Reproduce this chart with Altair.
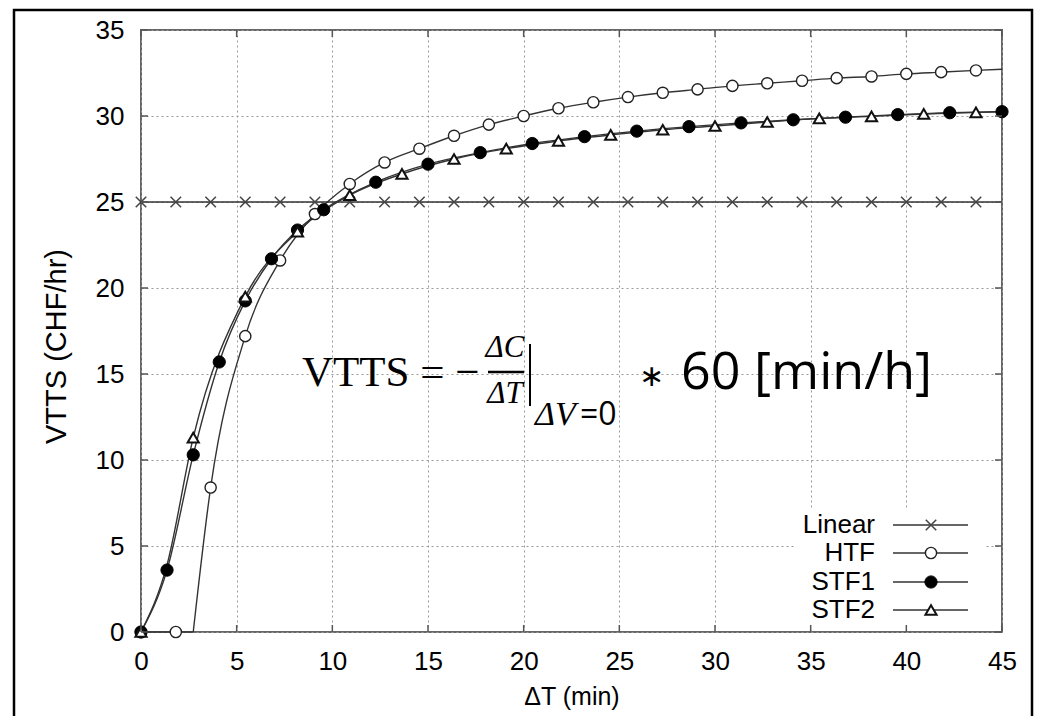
import altair as alt
import pandas as pd

# ---------------- data ----------------
# marker positions (x in minutes, y in CHF/hr)
LINEAR_X = [0.0, 1.82, 3.64, 5.45, 7.27, 9.09, 10.91, 12.73, 14.55, 16.36, 18.18, 20.0,
            21.82, 23.64, 25.45, 27.27, 29.09, 30.91, 32.73, 34.55, 36.36, 38.18, 40.0, 41.82, 43.64]
LINEAR_Y = [25.0, 25.0, 25.0, 25.0, 25.0, 25.0, 25.0, 25.0, 25.0, 25.0, 25.0, 25.0,
            25.0, 25.0, 25.0, 25.0, 25.0, 25.0, 25.0, 25.0, 25.0, 25.0, 25.0, 25.0, 25.0]

HTF_X = [0.0, 1.82, 3.64, 5.45, 7.27, 9.09, 10.91, 12.73, 14.55, 16.36, 18.18, 20.0,
         21.82, 23.64, 25.45, 27.27, 29.09, 30.91, 32.73, 34.55, 36.36, 38.18, 40.0, 41.82, 43.64]
HTF_Y = [0.0, 0.0, 8.4, 17.2, 21.6, 24.3, 26.05, 27.3, 28.1, 28.85, 29.5, 30.0,
         30.45, 30.8, 31.1, 31.35, 31.55, 31.75, 31.9, 32.05, 32.2, 32.3, 32.45, 32.55, 32.65]

STF1_X = [0.0, 1.36, 2.73, 4.09, 5.45, 6.82, 8.18, 9.55, 12.27, 15.0, 17.73, 20.45,
          23.18, 25.91, 28.64, 31.36, 34.09, 36.82, 39.55, 42.27, 45.0]
STF1_Y = [0.0, 3.6, 10.3, 15.7, 19.25, 21.7, 23.37, 24.55, 26.15, 27.2, 27.87, 28.4,
          28.8, 29.12, 29.38, 29.6, 29.78, 29.93, 30.08, 30.19, 30.25]

STF2_X = [0.0, 2.73, 5.45, 8.18, 10.91, 13.64, 16.36, 19.09, 21.82, 24.55, 27.27, 30.0,
          32.73, 35.45, 38.18, 40.91, 43.64]
STF2_Y = [0.0, 11.3, 19.5, 23.27, 25.4, 26.63, 27.5, 28.1, 28.55, 28.9, 29.2, 29.42,
          29.65, 29.86, 29.98, 30.12, 30.21]

# points on the curves that carry no marker
LINEAR_END = [45.0, 25.0]
HTF_ONSET = [2.73, 0.0]
HTF_END = [45.0, 32.72]
STF2_EARLY = [1.36, 3.9]
STF2_END = [45.0, 30.26]

SERIES = ["Linear", "HTF", "STF1", "STF2"]
X_TICKS = [0, 5, 10, 15, 20, 25, 30, 35, 40, 45]
Y_TICKS = [0, 5, 10, 15, 20, 25, 30, 35]

# ---------------- tables ----------------
def frame(name, part, xs, ys):
    return pd.DataFrame({"series": name, "part": part, "x": xs, "y": ys})

lines = pd.concat([
    frame("Linear", "a", LINEAR_X + [LINEAR_END[0]], LINEAR_Y + [LINEAR_END[1]]),
    frame("HTF", "flat", HTF_X[:2] + [HTF_ONSET[0]], HTF_Y[:2] + [HTF_ONSET[1]]),
    frame("HTF", "rise", [HTF_ONSET[0]] + HTF_X[2:] + [HTF_END[0]],
          [HTF_ONSET[1]] + HTF_Y[2:] + [HTF_END[1]]),
    frame("STF1", "a", STF1_X, STF1_Y),
    frame("STF2", "a", [STF2_X[0], STF2_EARLY[0]] + STF2_X[1:] + [STF2_END[0]],
          [STF2_Y[0], STF2_EARLY[1]] + STF2_Y[1:] + [STF2_END[1]]),
], ignore_index=True)
lines["key"] = lines["series"] + "_" + lines["part"]

marks = {
    "Linear": frame("Linear", "m", LINEAR_X, LINEAR_Y),
    "HTF": frame("HTF", "m", HTF_X, HTF_Y),
    "STF1": frame("STF1", "m", STF1_X, STF1_Y),
    "STF2": frame("STF2", "m", STF2_X, STF2_Y),
}

W, H = 861, 602
FONT = "Liberation Sans"
CROSS = "M-1,-1L1,1M-1,1L1,-1"

STYLE = {
    "Linear": dict(shape=CROSS, size=110, filled=False, stroke="#444", strokeWidth=1.5, opacity=1),
    "HTF": dict(shape="circle", size=125, filled=True, fill="white", stroke="#222", strokeWidth=1.4, opacity=1),
    "STF1": dict(shape="circle", size=150, filled=True, fill="black", stroke="black", strokeWidth=1, opacity=1),
    "STF2": dict(shape="triangle-up", size=125, filled=True, fill="white", stroke="#111", strokeWidth=2, opacity=1),
}

xs = alt.Scale(domain=[0, 45], nice=False, zero=False)
ys = alt.Scale(domain=[0, 35], nice=False, zero=False)
X = alt.X("x:Q", scale=xs, title="ΔT (min)",
          axis=alt.Axis(values=X_TICKS, format="d", grid=True, labelFlush=False))
Y = alt.Y("y:Q", scale=ys, title="VTTS (CHF/hr)",
          axis=alt.Axis(values=Y_TICKS, format="d", grid=True, labelFlush=False,
                        titleX=-85, titleY=316, titleAngle=270,
                        titleAlign="center", titleBaseline="middle"))

line_layer = alt.Chart(lines).mark_line(
    interpolate="monotone", color="#333", strokeWidth=1.4
).encode(x=X, y=Y, detail="key:N", order="x:Q")

marker_layers = [
    alt.Chart(marks[s]).mark_point(**STYLE[s]).encode(x=X, y=Y) for s in SERIES
]

# ---------------- legend (drawn in pixels) ----------------
one = pd.DataFrame({"k": [0]})
LEG_TEXT_X, LEG_L0, LEG_L1, LEG_M = 734, 752, 827, 790
LEG_ROWS = [495, 523, 552, 580]
legend_layers = [
    alt.Chart(one).mark_rect(fill="white", stroke="white", strokeWidth=0).encode(
        x=alt.value(654), x2=alt.value(844), y=alt.value(480), y2=alt.value(599))
]
for name, ry in zip(SERIES, LEG_ROWS):
    legend_layers.append(alt.Chart(one).mark_text(
        text=name, font=FONT, fontSize=26, align="right", baseline="middle", color="black"
    ).encode(x=alt.value(LEG_TEXT_X), y=alt.value(ry)))
    legend_layers.append(alt.Chart(one).mark_rule(color="#333", strokeWidth=1.4).encode(
        x=alt.value(LEG_L0), x2=alt.value(LEG_L1), y=alt.value(ry)))
    legend_layers.append(alt.Chart(one).mark_point(**STYLE[name]).encode(
        x=alt.value(LEG_M), y=alt.value(ry)))

# ---------------- inward ticks like gnuplot ----------------
xt = pd.DataFrame({"x": X_TICKS})
yt = pd.DataFrame({"y": Y_TICKS})
TK = dict(color="#555", strokeWidth=1.5)
tick_layers = [
    alt.Chart(xt).mark_rule(**TK).encode(x=X, y=alt.value(H), y2=alt.value(H - 7)),
    alt.Chart(xt).mark_rule(**TK).encode(x=X, y=alt.value(0), y2=alt.value(7)),
    alt.Chart(yt).mark_rule(**TK).encode(y=Y, x=alt.value(0), x2=alt.value(7)),
    alt.Chart(yt).mark_rule(**TK).encode(y=Y, x=alt.value(W), x2=alt.value(W - 7)),
]

# ---------------- formula annotation ----------------
SERIF = "Liberation Serif"
SANS2 = "Open Sans"
def txt(text, x, y, font, size, align="left", style="normal"):
    return alt.Chart(one).mark_text(
        text=text, font=font, fontSize=size, align=align, baseline="middle",
        color="black", fontStyle=style
    ).encode(x=alt.value(x), y=alt.value(y))

formula_layers = [
    txt("VTTS = −", 161, 343, SERIF, 43),
    txt("ΔC", 364, 318, SERIF, 31, align="center", style="italic"),
    alt.Chart(one).mark_rule(color="black", strokeWidth=2.5).encode(
        x=alt.value(347), x2=alt.value(383), y=alt.value(342)),
    txt("ΔT", 364, 364, SERIF, 31, align="center", style="italic"),
    alt.Chart(one).mark_rule(color="black", strokeWidth=2).encode(
        x=alt.value(389), y=alt.value(314), y2=alt.value(376)),
    txt("ΔV", 394, 385, SERIF, 34, style="italic"),
    txt("=0", 439, 385, SANS2, 32),
    txt("∗", 498, 347, "DejaVu Sans", 30),
    txt("60 [min/h]", 540, 343, SANS2, 52),
]

# ---------------- outer frame of the figure ----------------
frame_layer = alt.Chart(one).mark_rect(
    fillOpacity=0, stroke="black", strokeWidth=2.5
).encode(x=alt.value(-127), x2=alt.value(891), y=alt.value(-20), y2=alt.value(720))

chart = alt.layer(
    line_layer, *marker_layers, *legend_layers, *tick_layers, *formula_layers, frame_layer
).properties(
    width=W, height=H,
    padding={"left": 133, "top": 22, "right": 32, "bottom": 84},
    autosize=alt.AutoSizeParams(type="none"),
).configure_view(
    stroke="#666", strokeWidth=2
).configure_axis(
    domain=False, ticks=False,
    labelFont=FONT, labelFontSize=26, labelColor="black",
    titleFont=FONT, titleFontSize=25, titleColor="black", titleFontWeight="normal",
    gridColor="#999", gridDash=[2, 3], gridWidth=1,
).configure_axisX(
    labelPadding=16, titlePadding=10,
).configure_axisY(
    labelPadding=17, titleFontSize=29,
)

chart.save("out.html", embed_options={"renderer": "svg", "actions": False})
